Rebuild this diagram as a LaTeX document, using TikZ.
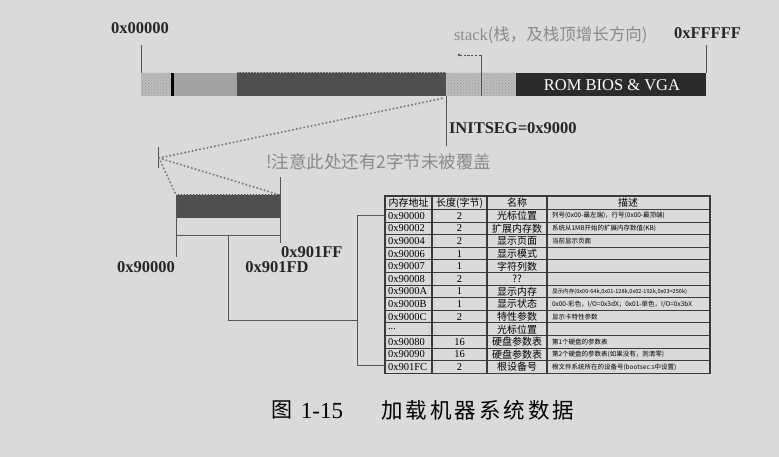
\documentclass[tikz,border=0pt]{standalone}
\usepackage{fontspec}
\setmainfont{Liberation Serif}
\newfontfamily\cjk{Noto Sans CJK SC}
\newfontfamily\cjkcap[LetterSpace=14]{Noto Sans CJK SC}
\usetikzlibrary{patterns}

\definecolor{bgcol}{HTML}{DADADA}
\definecolor{lightseg}{HTML}{BDBDBD}
\definecolor{midseg}{HTML}{A2A2A2}
\definecolor{darkseg}{HTML}{555555}
\definecolor{romseg}{HTML}{2B2B2B}
\definecolor{notegray}{HTML}{8A8A8A}
\definecolor{linegray}{HTML}{555555}
\definecolor{dotgray}{HTML}{7A7A7A}
\definecolor{tblline}{HTML}{3A3A3A}

\newcommand\tabrow[5]{%
  \node[cellA,anchor=west] (a#1) at (388,{209.5+(#1-0.5)*12.6}) {#2};
  \node[cellA] (l#1) at (459.5,{209.5+(#1-0.5)*12.6}) {#3};
  \node[cellN] (n#1) at (517,{209.5+(#1-0.5)*12.6}) {#4};
  \node[cellD,anchor=west] (d#1) at (552,{209.5+(#1-0.5)*12.6}) {#5};
}

\begin{document}
\begin{tikzpicture}[x=1pt,y=-1pt,inner sep=0pt,outer sep=0pt,
  addr/.style={text=black!85,font=\bfseries\fontsize{16.5}{20}\selectfont},
  note/.style={text=notegray,font=\fontsize{16.5}{19}\selectfont},
  tick/.style={draw=linegray,line width=0.7pt},
  dotline/.style={draw=dotgray,line width=2.1pt,line cap=round,dash pattern=on 0.2pt off 3.6pt},
  seglight/.style={fill=lightseg,postaction={pattern=crosshatch dots,pattern color=gray!80}},
  segmid/.style={fill=midseg},
  segdark/.style={fill=darkseg,postaction={pattern=crosshatch,pattern color=black!70}},
  tbl/.style={draw=tblline,line width=1.1pt},
  cellA/.style={font=\fontsize{10.5}{12}\selectfont},
  cellN/.style={font=\cjk\fontsize{10}{12}\selectfont},
  cellD/.style={font=\cjk\fontsize{6.5}{8}\selectfont},
  cellH/.style={font=\cjk\fontsize{10}{12}\selectfont}]

\useasboundingbox (0,0) rectangle (779,457);
\fill[bgcol] (0,0) rectangle (779,457);

% ---- memory bar 0x00000 .. 0xFFFFF ----
\path[seglight] (141,73) rectangle (172,96);
\fill[black] (171,73) rectangle (174,96);
\path[segmid] (174,73) rectangle (237,96);
\path[segdark] (237,73) rectangle (446,96);
\path[seglight] (446,73) rectangle (516,96);
\fill[romseg] (516,73) rectangle (706,96);
\node[text=white,font=\fontsize{16.5}{19}\selectfont] (rom) at (612,85) {ROM BIOS \& VGA};

% ends of the bar
\coordinate (lo) at (141,45);
\coordinate (hi) at (706,45);
\draw[tick] (lo) -- (141,73);
\draw[tick] (hi) -- (706,73);
\node[addr] (lolab) at (140,28) {0x00000};
\node[addr,anchor=west] (hilab) at (674,33) {0xFFFFF};

% stack marker
\coordinate (stk) at (481,55);
\coordinate (stkend) at (459,55);
\draw[tick] (stk) -- (481,96);
\draw[linegray,line width=0.9pt,dash pattern=on 2.2pt off 1.6pt] (stk) -- (stkend);
\fill[linegray] (stkend) circle (1.5pt);
\node[note,anchor=west] (stklab) at (454,35) {stack{\cjk(栈，及栈顶增长方向)}};

% INITSEG marker
\coordinate (init) at (446,96);
\draw[tick] (init) -- (446,146);
\node[addr,anchor=west] (initlab) at (449,128) {INITSEG=0x9000};

% ---- zoomed view of 0x90000 .. 0x901FF ----
\coordinate (zt) at (158,147);
\coordinate (zb) at (158,168);
\coordinate (zc) at (159,158);
\draw[tick] (zt) -- (zb);
\coordinate (bl) at (176,195);
\coordinate (br) at (280,195);
\draw[dotline] (zc) -- (444,98);
\draw[dotline] (zc) -- (br);
\draw[dotline] (zc) -- (bl);

\path[segdark] (bl) rectangle (280,218);
\draw[tick] (280,177) -- (280,243);
\draw[tick] (176,195) -- (176,257);
\draw[tick] (176,235) -- (280,235);
\node[note,font=\cjk\fontsize{17.5}{20}\selectfont,anchor=west] (warn) at (266,162) {!注意此处还有2字节未被覆盖};
\node[addr,anchor=west] (l1ff) at (281,252) {0x901FF};
\node[addr] (l000) at (146,267) {0x90000};
\node[addr] (l1fd) at (277,267) {0x901FD};

% link to the parameter table
\coordinate (mid) at (228,235);
\coordinate (knee) at (228,320);
\coordinate (brk) at (357,320);
\draw[tick] (mid) -- (knee) -- (brk);
\draw[tick] (385,215) -- (357,215) -- (357,365) -- (385,365);

% ---- parameter table ----
\draw[tbl] (385,196) rectangle (710,373.3);
\draw[tbl] (385,209.5) -- (710,209.5);
\foreach \k in {1,...,12} \draw[tbl] (385,{209.5+\k*12.6}) -- (710,{209.5+\k*12.6});
\foreach \cx in {432,487,547} \draw[tbl] (\cx,196) -- (\cx,373.3);

\node[cellH] (h1) at (408.5,202.8) {内存地址};
\node[cellH] (h2) at (459.5,202.8) {长度(字节)};
\node[cellH] (h3) at (517,202.8) {名称};
\node[cellH] (h4) at (628,202.8) {描述};

\tabrow{1}{0x90000}{2}{光标位置}{列号(0x00-最左端)，行号(0x00-最顶端)}
\tabrow{2}{0x90002}{2}{扩展内存数}{系统从1MB开始的扩展内存数值(KB)}
\tabrow{3}{0x90004}{2}{显示页面}{当前显示页面}
\tabrow{4}{0x90006}{1}{显示模式}{}
\tabrow{5}{0x90007}{1}{字符列数}{}
\tabrow{6}{0x90008}{2}{??}{}
\tabrow{7}{0x9000A}{1}{显示内存}{\fontsize{5.6}{7}\selectfont 显示内存(0x00-64k,0x01-128k,0x02-192k,0x03=256k)}
\tabrow{8}{0x9000B}{1}{显示状态}{0x00-彩色，I/O=0x3dX；0x01-单色，I/O=0x3bX}
\tabrow{9}{0x9000C}{2}{特性参数}{显示卡特性参数}
\tabrow{10}{...}{}{光标位置}{}
\tabrow{11}{0x90080}{16}{硬盘参数表}{第1个硬盘的参数表}
\tabrow{12}{0x90090}{16}{硬盘参数表}{第2个硬盘的参数表(如果没有，则清零)}
\tabrow{13}{0x901FC}{2}{根设备号}{根文件系统所在的设备号(bootsec.s中设置)}

% ---- caption ----
\node[font=\cjk\fontsize{21}{24}\selectfont] (cap1) at (282,410) {图};
\node[font=\fontsize{23}{26}\selectfont] (cap2) at (322,411) {1-15};
\node[font=\cjkcap\fontsize{21.5}{24}\selectfont,anchor=west] (cap3) at (381,410) {加载机器系统数据};
\end{tikzpicture}
\end{document}
